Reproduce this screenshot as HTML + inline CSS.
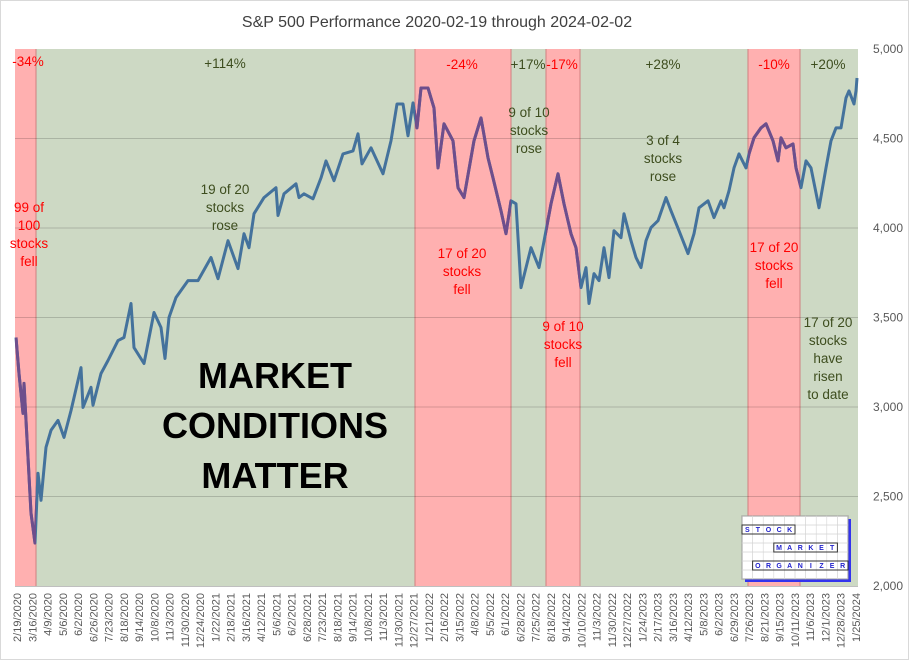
<!DOCTYPE html>
<html><head><meta charset="utf-8"><style>
body{margin:0;background:#fff;}
#wrap{position:relative;width:909px;height:660px;overflow:hidden;font-family:"Liberation Sans",sans-serif;border:1px solid #d9d9d9;box-sizing:border-box;}
.ann{position:absolute;text-align:center;font-size:13.5px;line-height:18px;white-space:nowrap;transform:translateX(-50%);}
.r{color:#ff0000}.g{color:#3d4d1e}
</style></head><body>
<div id="wrap">
<svg id="chart" width="909" height="660" style="position:absolute;left:0;top:0"></svg>
<div class="ann r" style="left:27px;top:52px">-34%</div>
<div class="ann g" style="left:224px;top:54px">+114%</div>
<div class="ann r" style="left:28px;top:198px">99 of<br>100<br>stocks<br>fell</div>
<div class="ann g" style="left:224px;top:180px">19 of 20<br>stocks<br>rose</div>
<div class="ann r" style="left:461px;top:55px">-24%</div>
<div class="ann g" style="left:527px;top:55px">+17%</div>
<div class="ann r" style="left:561px;top:55px">-17%</div>
<div class="ann g" style="left:528px;top:103px">9 of 10<br>stocks<br>rose</div>
<div class="ann r" style="left:461px;top:244px">17 of 20<br>stocks<br>fell</div>
<div class="ann r" style="left:562px;top:317px">9 of 10<br>stocks<br>fell</div>
<div class="ann g" style="left:662px;top:55px">+28%</div>
<div class="ann g" style="left:662px;top:131px">3 of 4<br>stocks<br>rose</div>
<div class="ann r" style="left:773px;top:55px">-10%</div>
<div class="ann r" style="left:773px;top:238px">17 of 20<br>stocks<br>fell</div>
<div class="ann g" style="left:827px;top:55px">+20%</div>
<div class="ann g" style="left:827px;top:313px">17 of 20<br>stocks<br>have<br>risen<br>to date</div>
<div style="position:absolute;left:274px;top:350px;transform:translateX(-50%);text-align:center;font-weight:bold;font-size:36px;line-height:50px;color:#000;white-space:nowrap">MARKET<br>CONDITIONS<br>MATTER</div>
</div>
<script>
const days=[0,3,7,8,12,15,19,22,25,30,35,42,48,55,65,67,75,77,85,92,102,108,115,118,128,138,145,149,153,160,172,182,195,202,212,222,228,233,238,248,260,262,268,280,283,288,297,305,310,318,327,337,342,346,355,367,375,381,387,392,397,401,405,412,418,422,428,437,442,448,458,465,472,477,485,490,495,500,505,515,523,530,535,542,548,555,560,565,570,573,578,583,588,593,598,605,608,615,620,625,630,635,642,650,655,663,672,678,683,692,698,705,708,713,718,723,730,733,738,745,750,757,762,765,770,777,780,785,790,795,803,810,815,820,825,830,833,838,840,841];
const closes=[3388,3187,2964,3132,2719,2407,2240,2630,2479,2775,2870,2925,2830,2980,3220,2998,3110,3010,3187,3260,3371,3388,3578,3332,3243,3528,3444,3271,3500,3612,3706,3706,3835,3717,3929,3773,3968,3890,4080,4170,4225,4070,4191,4247,4170,4191,4163,4280,4375,4264,4414,4431,4526,4358,4448,4303,4487,4693,4693,4515,4699,4559,4782,4782,4671,4336,4582,4487,4225,4170,4487,4615,4392,4280,4096,3968,4152,4135,3667,3890,3779,3985,4135,4303,4135,3968,3890,3667,3779,3578,3745,3706,3890,3723,3985,3946,4080,3929,3835,3779,3929,4002,4041,4170,4096,3985,3857,3968,4113,4152,4058,4152,4113,4208,4336,4414,4336,4414,4504,4559,4582,4487,4375,4504,4448,4470,4336,4225,4375,4336,4113,4336,4487,4559,4559,4727,4766,4693,4766,4838,4916,4838,4950];
const redStarts=[0,399,530,732];
const redEnds=[20,495,564,784];
const yTicks=[2000,2500,3000,3500,4000,4500,5000];
const yTickLabels=["2,000","2,500","3,000","3,500","4,000","4,500","5,000"];
const xLabels=["2/19/2020","3/16/2020","4/9/2020","5/6/2020","6/2/2020","6/26/2020","7/23/2020","8/18/2020","9/14/2020","10/8/2020","11/3/2020","11/30/2020","12/24/2020","1/22/2021","2/18/2021","3/16/2021","4/12/2021","5/6/2021","6/2/2021","6/28/2021","7/23/2021","8/18/2021","9/14/2021","10/8/2021","11/3/2021","11/30/2021","12/27/2021","1/21/2022","2/16/2022","3/15/2022","4/8/2022","5/5/2022","6/1/2022","6/28/2022","7/25/2022","8/18/2022","9/14/2022","10/10/2022","11/3/2022","11/30/2022","12/27/2022","1/24/2023","2/17/2023","3/16/2023","4/12/2023","5/8/2023","6/2/2023","6/29/2023","7/26/2023","8/21/2023","9/15/2023","10/11/2023","11/6/2023","12/1/2023","12/28/2023","1/25/2024"];

const NS="http://www.w3.org/2000/svg";
const svg=document.getElementById('chart');
const L=14,R=857,T=48,B=585,X0=15,DMAX=841;
const xS=d=>X0+d*(R-1-X0)/DMAX;
const yS=v=>B-(v-2000)*(B-T)/3000;
function mk(tag,attrs,parent){const e=document.createElementNS(NS,tag);for(const k in attrs)e.setAttribute(k,attrs[k]);(parent||svg).appendChild(e);return e;}

const t=mk('text',{x:436,y:26,'text-anchor':'middle','font-size':'16','fill':'#404040','font-family':'Liberation Sans, sans-serif'});
t.textContent='S&P 500 Performance 2020-02-19 through 2024-02-02';



const bg=mk('rect',{x:L,y:T,width:R-L,height:B-T,fill:'#cdd9c4'});



const defs=mk('defs',{});
const clip=mk('clipPath',{id:'redclip'},defs);
redStarts.forEach((s,i)=>{
  const x1=i===0?L:xS(s), x2=xS(redEnds[i]);
  const r=mk('rect',{x:x1,y:T,width:x2-x1,height:B-T,fill:'#ffb0b0'});
  
  
  mk('rect',{x:x1,y:T,width:x2-x1,height:B-T},clip);
  if(i>0){mk('line',{x1:x1,x2:x1,y1:T,y2:B,stroke:'#d08080','stroke-width':1});}
  mk('line',{x1:x2,x2:x2,y1:T,y2:B,stroke:'#d08080','stroke-width':1});
});

yTicks.forEach((v,i)=>{
  const y=yS(v);
  if(v>2000&&v<5000){const g=mk('line',{x1:L,x2:R,y1:y,y2:y,stroke:'rgba(0,0,0,0.17)','stroke-width':1});
  
  }
  const tx=mk('text',{x:902,y:y+4,'text-anchor':'end','font-size':'12','fill':'#595959','font-family':'Liberation Sans, sans-serif'});
  tx.textContent=yTickLabels[i];
  
  
});
mk('line',{x1:L,x2:R,y1:B+0.5,y2:B+0.5,stroke:'#bfbfbf','stroke-width':1});

const nL=xLabels.length;
xLabels.forEach((s,i)=>{
  const x=16+i*(855-16)/(nL-1)+4;
  const tx=mk('text',{x:0,y:0,'text-anchor':'end','font-size':'11','fill':'#595959','font-family':'Liberation Sans, sans-serif',transform:`translate(${x},592) rotate(-90)`});
  tx.textContent=s;
  
  
});

const pts=days.map((d,i)=>xS(d).toFixed(1)+','+yS(closes[i]).toFixed(1)).join(' ');
const line=mk('polyline',{points:pts,fill:'none',stroke:'#44729c','stroke-width':3,'stroke-linejoin':'round'});


const line2=mk('polyline',{points:pts,fill:'none',stroke:'#6e4e8c','stroke-width':3,'stroke-linejoin':'round','clip-path':'url(#redclip)'});



// logo
const lg=mk('g',{});


const LX=741,LY=515,LW=106,LH=63,NC=10,NR=7;
mk('rect',{x:LX+3,y:LY+3,width:LW,height:LH,fill:'#3333ee'},lg);
mk('rect',{x:LX,y:LY,width:LW,height:LH,fill:'#fff',stroke:'#666','stroke-width':1},lg);
const cw=LW/NC,ch=LH/NR;
for(let r=0;r<NR;r++)for(let c=0;c<NC;c++)mk('rect',{x:LX+c*cw,y:LY+r*ch,width:cw,height:ch,fill:'none',stroke:'#d4d4d4','stroke-width':0.5},lg);
const words=[[1,0,'STOCK'],[3,3,'MARKET'],[5,1,'ORGANIZER']];
words.forEach(([r,c0,w])=>{
  mk('rect',{x:LX+c0*cw,y:LY+r*ch,width:w.length*cw,height:ch,fill:'none',stroke:'#333','stroke-width':1},lg);
  [...w].forEach((ch2,k)=>{const tx=mk('text',{x:LX+(c0+k+0.5)*cw,y:LY+r*ch+7,'text-anchor':'middle','font-size':'7','font-weight':'bold','fill':'#2222cc','font-family':'Liberation Sans, sans-serif'},lg);tx.textContent=ch2;});
});
</script>
</body></html>
